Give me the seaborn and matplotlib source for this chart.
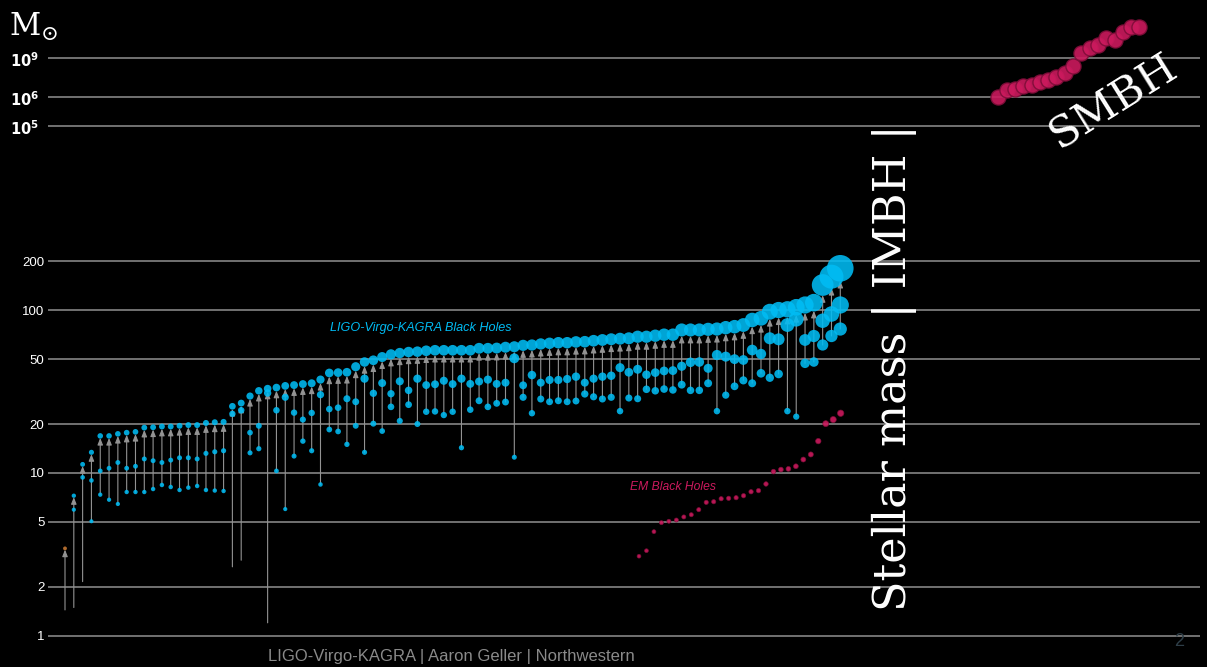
import numpy as np
import pandas as pd
import matplotlib
matplotlib.use("Agg")
import matplotlib.pyplot as plt
from matplotlib.transforms import blended_transform_factory, offset_copy
import seaborn as sns

# ---------------------------------------------------------------------------
# Gravitational-wave mergers (solar masses): remnant, primary and secondary
# ---------------------------------------------------------------------------
gw_final = [3.44, 7.25, 11.3, 13.4, 16.9, 16.9, 17.4, 17.7, 17.9, 19.0,
            19.1, 19.3, 19.3, 19.5, 19.7, 19.7, 20.3, 20.5, 20.6, 25.7,
            26.9, 29.7, 32.0, 33.0, 33.5, 34.3, 34.7, 35.2, 35.6, 37.5,
            41.2, 41.4, 41.6, 45.0, 48.1, 49.3, 51.6, 53.6, 54.6, 55.4,
            55.7, 56.4, 56.8, 56.8, 56.8, 56.8, 56.8, 58.4, 58.4, 58.6,
            59.3, 59.7, 60.9, 61.2, 62.1, 62.7, 63.2, 63.2, 63.9, 64.1,
            65.0, 65.7, 66.4, 66.9, 67.3, 68.8, 68.8, 69.8, 70.8, 70.8,
            75.7, 75.7, 75.7, 76.4, 76.7, 78.2, 79.3, 81.2, 87.2, 89.3,
            98.0, 100.4, 101.4, 104.3, 107.8, 111.4, 143.0, 160.9, 181.2]
gw_primary = [2.0, 5.95, 9.4, 9.0, 10.3, 10.7, 11.6, 10.7, 11.0, 12.2,
              11.9, 11.6, 12.0, 12.4, 12.4, 12.2, 13.2, 13.5, 13.7, 23.1,
              24.3, 17.7, 19.5, 31.0, 24.3, 29.2, 23.5, 21.3, 23.4, 30.3,
              24.7, 25.2, 28.6, 27.4, 38.0, 30.9, 35.7, 30.7, 36.6, 32.2,
              38.0, 34.7, 35.1, 36.9, 35.2, 38.0, 35.3, 36.5, 37.5, 35.3,
              35.9, 50.7, 34.6, 40.0, 35.9, 37.3, 37.3, 37.8, 39.1, 35.9,
              38.0, 39.1, 39.6, 44.4, 41.6, 43.4, 40.2, 41.4, 42.4, 42.6,
              45.3, 47.9, 48.1, 44.0, 53.1, 51.9, 50.1, 49.5, 57.0, 53.9,
              67.3, 66.3, 81.2, 88.1, 65.7, 69.5, 86.3, 94.9, 107.8]
gw_secondary = [1.44, 1.49, 2.15, 5.05, 7.36, 6.85, 6.45, 7.64, 7.64, 7.64,
                7.97, 8.44, 8.2, 7.86, 8.13, 8.32, 7.86, 7.8, 7.75, 2.65,
                2.91, 13.3, 14.1, 1.2, 10.3, 6.0, 12.7, 15.7, 13.7, 8.5,
                18.5, 18.0, 15.0, 19.5, 13.4, 20.1, 18.1, 25.5, 20.9, 26.3,
                20.0, 23.8, 23.9, 22.7, 23.8, 14.3, 24.5, 27.8, 25.5, 26.8,
                27.3, 12.5, 29.2, 23.3, 28.5, 27.4, 27.8, 27.4, 27.7, 30.6,
                29.4, 28.5, 29.2, 24.0, 28.9, 28.6, 32.7, 32.0, 32.8, 32.4,
                34.9, 32.2, 32.2, 35.6, 24.0, 30.1, 34.1, 37.1, 35.6, 41.0,
                38.5, 40.6, 24.0, 22.2, 47.2, 48.1, 61.2, 69.5, 76.7]

# X-ray binary / electromagnetic black holes (solar masses)
em_mass = [3.08, 3.33, 4.36, 4.95, 5.05, 5.14, 5.37, 5.54, 5.95, 6.6,
           6.66, 6.95, 6.99, 7.05, 7.25, 7.67, 7.79, 8.56, 10.2, 10.5,
           10.6, 11.0, 12.1, 13.0, 15.7, 20.1, 21.3, 23.3]

# Supermassive black holes (solar masses)
smbh_mass = [1.0e6, 3.5e6, 3.9e6, 7.1e6, 8.3e6, 1.5e7, 2.0e7, 3.3e7, 6.6e7,
             2.4e8, 2.3e9, 5.6e9, 1.0e10, 3.2e10, 2.5e10, 1.0e11, 2.5e11, 2.5e11]

mass_ticks = [1, 2, 5, 10, 20, 50, 100, 200]
mass_tick_labels = ["1", "2", "5", "10", "20", "50", "100", "200"]
big_ticks = [1e5, 1e6, 1e9]
big_tick_labels = [r"$\mathbf{10}^{\mathbf{5}}$", r"$\mathbf{10}^{\mathbf{6}}$",
                   r"$\mathbf{10}^{\mathbf{9}}$"]

NS_LIMIT = 3.0          # components lighter than this are not drawn as dots
LIGHT_REMNANT = 3.5     # remnants lighter than this get the neutron-star colour

BLUE = "#00bcf4"
CRIMSON = "#cc1a5e"
CRIMSON_EDGE = "#7d0d38"
ORANGE = "#c97a34"
GRID = "#7a7a7a"
ARROW = "#939393"

# Broken log axis: stellar masses in ordinary decades, the supermassive range
# squeezed into a narrow band on top.
LOG_KNOTS = [-2.0, 2.5, 5.0, 6.0, 9.0, 15.0]
T_KNOTS = [-2.0, 2.5, 3.1328, 3.311, 3.5507, 4.0301]


def forward(m):
    m = np.clip(np.asarray(m, dtype=float), 1e-12, None)
    return np.interp(np.log10(m), LOG_KNOTS, T_KNOTS)


def inverse(t):
    return 10.0 ** np.interp(np.asarray(t, dtype=float), T_KNOTS, LOG_KNOTS)


def radius_px(m):
    return 1.7 + 0.064 * np.asarray(m, dtype=float)


def area_pt2(m):
    return (2 * radius_px(m) * 0.72) ** 2


sns.set_style("dark", {"axes.facecolor": "black", "figure.facecolor": "black"})
plt.rcParams["font.family"] = ["Liberation Sans", "DejaVu Sans"]
plt.rcParams["mathtext.fontset"] = "dejavusans"

W, H = 1207, 667
fig = plt.figure(figsize=(W / 100, H / 100), dpi=100, facecolor="black")
ax = fig.add_axes([48 / W, 0, 1152 / W, 1])
ax.set_facecolor("black")
ax.set_yscale("function", functions=(forward, inverse))
ax.set_ylim(inverse(-0.1924), inverse(3.9072))
ax.set_xlim(-17 / 8.81, 1135 / 8.81)

for s in ax.spines.values():
    s.set_visible(False)
ax.set_xticks([])
ax.set_yticks(mass_ticks + big_ticks)
ax.set_yticklabels(mass_tick_labels + [""] * len(big_ticks))
ax.yaxis.set_minor_locator(matplotlib.ticker.NullLocator())
ax.tick_params(axis="y", length=0, pad=2.5, labelsize=9.5, labelcolor="white")
ax.grid(axis="y", color=GRID, lw=1.3)
ax.grid(axis="x", visible=False)

lab_tr = offset_copy(blended_transform_factory(ax.transAxes, ax.transData),
                     fig=fig, y=-2, units="points")
for v, lab in zip(big_ticks, big_tick_labels):
    ax.text(-9 / 1152, v, lab, transform=lab_tr, ha="right", va="center",
            color="white", fontsize=10.5)

# ---- merger tracks: line from the lighter component up to the remnant ----
idx = np.arange(len(gw_final))
lows = np.minimum(gw_primary, gw_secondary)
for i, lo, hi in zip(idx, lows, gw_final):
    ax.annotate("", xy=(i, hi), xytext=(i, lo),
                arrowprops=dict(arrowstyle="-|>,head_length=0.4,head_width=0.16",
                                color=ARROW, lw=0.8, shrinkA=0,
                                shrinkB=float(radius_px(hi)) * 0.72 - 0.5),
                zorder=1)

rows = []
for i, m1, m2, mf in zip(idx, gw_primary, gw_secondary, gw_final):
    for m in (m2, m1):
        if m >= NS_LIMIT:
            rows.append((i, m, "bh"))
    rows.append((i, mf, "ns" if mf < LIGHT_REMNANT else "bh"))
dots = pd.DataFrame(rows, columns=["event", "mass", "kind"])
dots["area"] = area_pt2(dots["mass"])
amin, amax = dots["area"].min(), dots["area"].max()
sns.scatterplot(data=dots, x="event", y="mass", hue="kind",
                palette={"bh": BLUE, "ns": ORANGE}, size="area",
                sizes=(amin, amax), size_norm=(amin, amax), alpha=0.88,
                linewidth=0, legend=False, ax=ax, zorder=3)
ax.set_xlabel("")
ax.set_ylabel("")

# ---- electromagnetic black holes ----
ax_em = ax.twiny()
ax_em.set_xlim(-591 / 7.47, 561 / 7.47)
em = pd.DataFrame({"n": np.arange(len(em_mass)), "mass": em_mass})
em["area"] = area_pt2(em["mass"])
sns.scatterplot(data=em, x="n", y="mass", size="area",
                sizes=(em["area"].min(), em["area"].max()),
                size_norm=(em["area"].min(), em["area"].max()),
                color=CRIMSON, edgecolor=CRIMSON_EDGE, linewidth=0.5,
                alpha=0.9, legend=False, ax=ax_em, zorder=3)
ax_em.axis("off")

# ---- supermassive black holes ----
ax_sm = ax.twiny()
ax_sm.set_xlim(-950.3 / 8.3, 201.7 / 8.3)
sm = pd.DataFrame({"n": np.arange(len(smbh_mass)), "mass": smbh_mass})
sns.scatterplot(data=sm, x="n", y="mass", s=118, color=CRIMSON,
                edgecolor=CRIMSON_EDGE, linewidth=1.0, alpha=0.9,
                legend=False, ax=ax_sm, zorder=3)
ax_sm.axis("off")


def px(x, y):
    return x / W, 1 - y / H


fig.text(*px(9, 27), r"$\mathrm{M}_{\odot}$", color="white", fontsize=22,
         ha="left", va="center", math_fontfamily="dejavuserif")
fig.text(*px(421, 328), "LIGO-Virgo-KAGRA Black Holes", color=BLUE,
         fontsize=9.1, style="italic", ha="center", va="center")
fig.text(*px(673, 487), "EM Black Holes", color=CRIMSON, fontsize=8.7,
         style="italic", ha="center", va="center")
fig.text(*px(894, 368), "Stellar mass | IMBH |", color="white",
         family="DejaVu Serif", fontsize=32, rotation=90,
         ha="center", va="center")
fig.text(*px(1113, 102), "SMBH", color="white", family="DejaVu Serif",
         fontsize=31, rotation=32, ha="center", va="center",
         rotation_mode="anchor")
fig.text(*px(451, 657), "LIGO-Virgo-KAGRA | Aaron Geller | Northwestern",
         color="#8a8a8a", fontsize=12,
         family=["Liberation Sans Narrow", "Liberation Sans", "DejaVu Sans"],
         ha="center", va="center")
fig.text(*px(1179, 641), "2", color="#2e3e48", fontsize=13,
         ha="center", va="center")

fig.savefig("out.png", dpi=100, facecolor="black")
